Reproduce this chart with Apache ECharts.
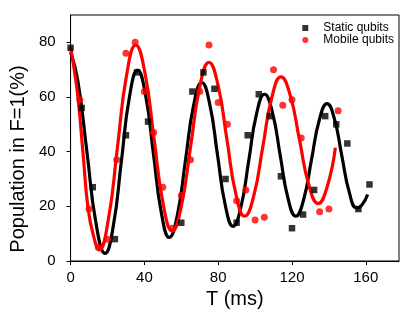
<!DOCTYPE html>
<html>
<head>
<meta charset="utf-8">
<script src="https://cdn.jsdelivr.net/npm/echarts@6/dist/echarts.min.js"></script>
<style>html,body{margin:0;padding:0;background:#fff}#c{width:414px;height:319px}</style>
</head>
<body>
<div id="c"></div>
<script>
// Measured data points
var staticT = [0,6,12,24,30,36,42,60,66,72,78,84,90,96,102,108,114,120,126,132,138,144,150,156,162];
var staticP = [78,56,27,8,46,69,51,14,62,69,63,30,14,46,61,53,31,12,17,26,53,50,43,19,28];
var mobileT = [5,10,15,20,25,30,35,40,45,50,55,60,65,70,75,80,85,90,95,100,105,110,115,120,125,135,140,145];
var mobileP = [59,19,5,8,37,76,80,62,47,27,12,24,37,62,79,58,50,22,26,15,16,70,57,59,45,18,19,55];
// Fit curves (extrema, crossings and quarter points)
var staticFitT = [0,3.9,8.85,13.8,18.7,23.1,27.5,31.9,36.3,40.6,44.9,49.2,53.5,57.9,62.3,66.7,71.1,75.35,79.6,83.85,88.1,92.35,96.6,100.85,105.1,109.35,113.6,117.85,122.1,126.3,130.55,134.8,139,143,147,151.1,155.1,158,161];
var staticFitP = [76.5,66,40,13.7,2.8,12.6,36.3,60,69.8,60.8,39.2,17.6,8.6,16.9,37,57,65.3,57.6,39,20.4,12.7,19.8,36.9,54,61,54.5,38.7,22.9,16.4,22.4,37,51.6,57.6,52,38.5,25,19.4,20.6,24.3];
var mobileFitT = [0,2,4.1,6.8,9.5,12.5,15.5,20.45,25.4,30.35,35.3,40.25,45.2,50.15,55.1,60,65.05,70,75,79.85,84.7,89.55,94.4,99.3,104.2,109.1,114,119.05,124.1,129.15,134.2,139,143.5];
var mobileFitP = [78.2,70,59.2,39,19.1,9,4.1,15.1,41.6,68,79,69,45,21,11,20,41.9,63.7,72.7,64.5,44.6,24.6,16.4,23.9,41.9,59.9,67.4,60.6,44.2,27.8,21,27,41.5];
var xTicks = [0,40,80,120,160];
var yTicks = [0,20,40,60,80];

function pairs(a,b){var r=[];for(var i=0;i<a.length;i++)r.push([a[i],b[i]]);return r;}
var FONT = 'Liberation Sans, Arial, sans-serif';
var chart = echarts.init(document.getElementById('c'), null, {renderer:'canvas'});
chart.setOption({
  animation:false,
  backgroundColor:'#fff',
  grid:{left:67,right:15,top:15,bottom:58,show:true,borderColor:'#000',borderWidth:1,backgroundColor:'transparent'},
  legend:{
    orient:'vertical', right:20, top:22, padding:0, itemGap:0,
    itemWidth:6, itemHeight:6,
    textStyle:{fontFamily:FONT,fontSize:12,color:'#000',lineHeight:12,padding:[0,0,0,10]},
    data:[{name:'Static qubits',icon:'rect'},{name:'Mobile qubits',icon:'circle'}]
  },
  xAxis:{
    type:'value', min:0, max:178,
    name:'T (ms)', nameLocation:'middle', nameGap:27,
    nameTextStyle:{fontFamily:FONT,fontSize:20,color:'#000'},
    axisLine:{show:true,onZero:false,lineStyle:{color:'#000',width:1}},
    axisTick:{show:true,inside:false,length:4,customValues:xTicks,lineStyle:{color:'#000'}},
    axisLabel:{customValues:xTicks,margin:9,fontFamily:FONT,fontSize:15,color:'#000'},
    splitLine:{show:false}
  },
  yAxis:{
    type:'value', min:0, max:90,
    name:'Population in F=1(%)', nameLocation:'middle', nameGap:31,
    nameTextStyle:{fontFamily:FONT,fontSize:20,color:'#000',padding:[0,42,0,0]},
    axisLine:{show:true,onZero:false,lineStyle:{color:'#000',width:1}},
    axisTick:{show:true,inside:false,length:4,customValues:yTicks,lineStyle:{color:'#000'}},
    axisLabel:{customValues:yTicks,margin:15,fontFamily:FONT,fontSize:15,color:'#000'},
    splitLine:{show:false}
  },
  series:[
    {name:'StaticFit',type:'line',data:pairs(staticFitT,staticFitP),smooth:0.5,showSymbol:false,
      lineStyle:{color:'#000',width:3.2},itemStyle:{color:'#000'},z:2},
    {name:'MobileFit',type:'line',data:pairs(mobileFitT,mobileFitP),smooth:0.5,showSymbol:false,
      lineStyle:{color:'#ff0000',width:3.2},itemStyle:{color:'#ff0000'},z:3},
    {name:'Static qubits',type:'scatter',data:pairs(staticT,staticP),symbol:'rect',symbolSize:6.5,
      itemStyle:{color:'#000'},z:4},
    {name:'Mobile qubits',type:'scatter',data:pairs(mobileT,mobileP),symbol:'circle',symbolSize:7,
      itemStyle:{color:'#ff0000'},z:5}
  ]
});
</script>
</body>
</html>
